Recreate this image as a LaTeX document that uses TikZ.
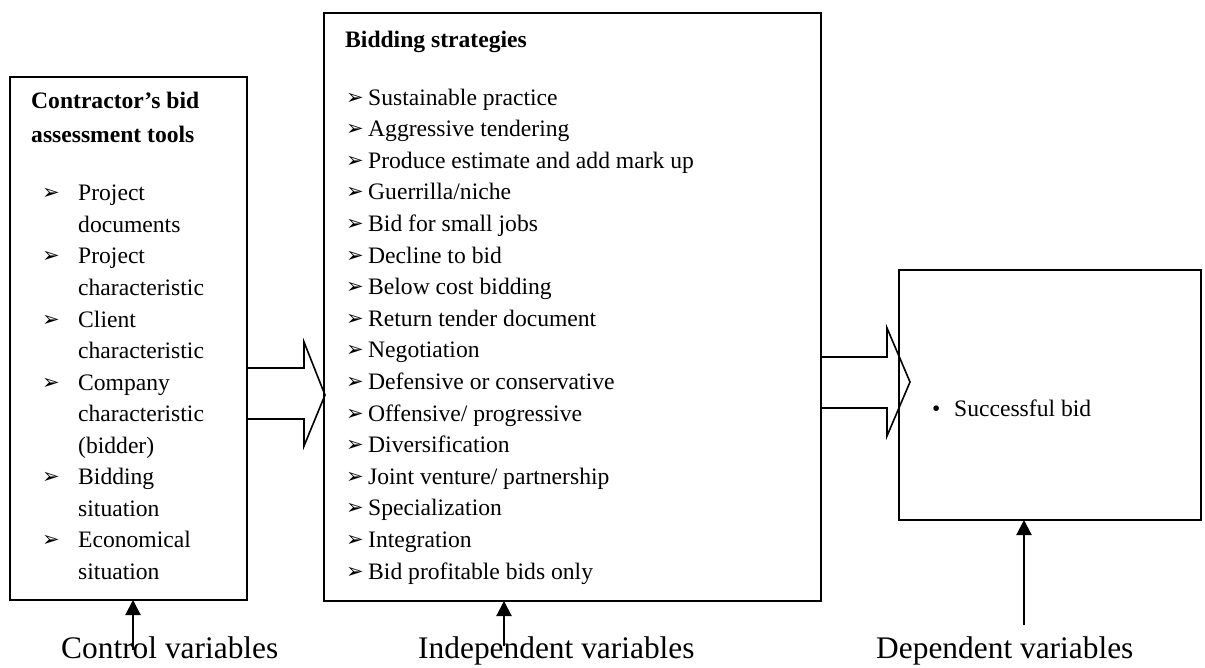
\documentclass[tikz,border=0pt]{standalone}
\usepackage{fontspec}
\setmainfont{Liberation Serif}
\newfontfamily\dv{DejaVu Sans}
\usetikzlibrary{arrows.meta}
\begin{document}
\begin{tikzpicture}[x=1pt,y=-1pt,
  box/.style={draw, line width=1.6pt, inner sep=0pt, outer sep=0pt},
  txt/.style={anchor=base west, inner sep=0pt, font=\fontsize{23.6}{28}\selectfont},
  hdr/.style={anchor=base west, inner sep=0pt, font=\fontsize{23.6}{28}\selectfont\bfseries},
  lab/.style={anchor=base west, inner sep=0pt, font=\fontsize{31.4}{36}\selectfont},
  bul/.style={anchor=base west, inner sep=0pt, font=\dv\fontsize{21}{24}\selectfont},
  up/.style={-{Triangle[length=15pt,width=15pt]}, line width=2.2pt},
  blk/.style={draw, line width=1.6pt, line join=miter}]
\useasboundingbox (0,0) rectangle (1205,667);
% boxes
\node[box, minimum width=237pt, minimum height=523pt, anchor=north west] (A) at (10,77) {};
\node[box, minimum width=497pt, minimum height=588pt, anchor=north west] (B) at (324,13) {};
\node[box, minimum width=302pt, minimum height=250pt, anchor=north west] (C) at (899,270) {};
% block arrows
\draw[blk] (247,368) -- (304,368) -- (304,342) -- (325,395) -- (304,446) -- (304,419) -- (247,419);
\draw[blk] (821,357) -- (887,357) -- (887,328) -- (910,382) -- (887,436) -- (887,408) -- (821,408);
% left box text
\node[hdr] (h1) at (31,108) {Contractor’s bid};
\node[hdr] (h2) at (31,142) {assessment tools};
\foreach \y in {200,263,327,390,484,547}{
  \node[bul] (lb\y) at (42,\y-1) {➢};
}
\node[txt] (l1) at (78,200) {Project};
\node[txt] (l2) at (78,232) {documents};
\node[txt] (l3) at (78,263) {Project};
\node[txt] (l4) at (78,295) {characteristic};
\node[txt] (l5) at (78,327) {Client};
\node[txt] (l6) at (78,358) {characteristic};
\node[txt] (l7) at (78,390) {Company};
\node[txt] (l8) at (78,421) {characteristic};
\node[txt] (l9) at (78,453) {(bidder)};
\node[txt] (l10) at (78,484) {Bidding};
\node[txt] (l11) at (78,516) {situation};
\node[txt] (l12) at (78,547) {Economical};
\node[txt] (l13) at (78,579) {situation};
% middle box text
\node[hdr] (h3) at (345,47) {Bidding strategies};
\foreach \t [count=\i from 0] in {Sustainable practice, Aggressive tendering, Produce estimate and add mark up, Guerrilla/niche, Bid for small jobs, Decline to bid, Below cost bidding, Return tender document, Negotiation, Defensive or conservative, Offensive/ progressive, Diversification, Joint venture/ partnership, Specialization, Integration, Bid profitable bids only}{
  \node[bul] (mb\i) at (346,104+\i*31.6) {➢};
  \node[txt] (m\i) at (368,105+\i*31.6) {\t};
}
% right box text
\node[txt] (rb) at (932,416) {\textbullet};
\node[txt] (r1) at (954,416) {Successful bid};
% labels and arrows
\node[lab] (L1) at (61,658) {Control variables};
\node[lab] (L2) at (418,658) {Independent variables};
\node[lab] (L3) at (876,658) {Dependent variables};
\coordinate (a1) at (133,650);
\coordinate (a2) at (504,646);
\coordinate (a3) at (1024,625);
\draw[up] (a1) -- (A.south -| a1);
\draw[up] (a2) -- (B.south -| a2);
\draw[up] (a3) -- (C.south -| a3);
\end{tikzpicture}
\end{document}
